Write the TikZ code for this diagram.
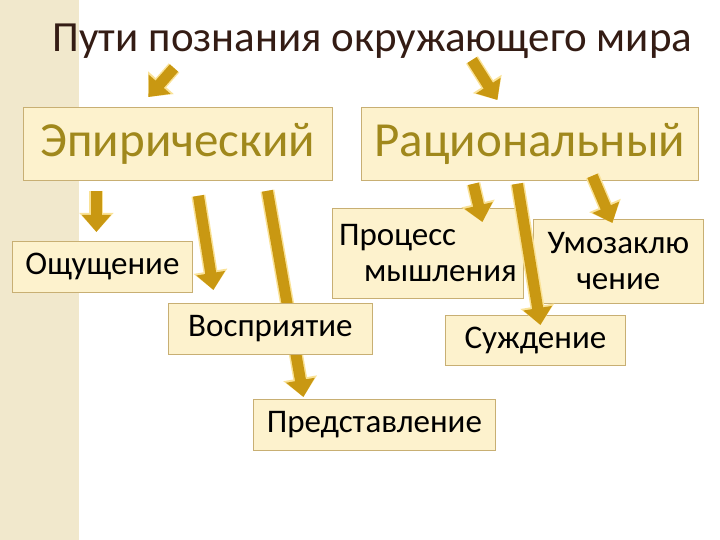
\documentclass[tikz,border=0pt]{standalone}
\usepackage{fontspec}
\setmainfont{Carlito}
\usetikzlibrary{arrows.meta,calc,backgrounds}
\definecolor{strip}{RGB}{241,232,204}
\definecolor{boxfill}{RGB}{253,242,205}
\definecolor{boxline}{RGB}{200,175,115}
\definecolor{gold}{RGB}{201,152,18}
\definecolor{glow}{RGB}{250,226,150}
\definecolor{olive}{RGB}{160,136,28}
\definecolor{titlebrown}{RGB}{52,28,20}
\tikzset{
  box/.style={draw=boxline, fill=boxfill, line width=0.8pt, inner sep=0pt, anchor=north west, align=center, font=\fontsize{33}{36}\selectfont},
  bigbox/.style={box, text=olive, font=\fontsize{49}{52}\selectfont},
  flow/.style={line width=11pt, draw=gold, -{Triangle[width=28pt,length=17pt]},
    preaction={draw=glow, line width=14pt, -{Triangle[width=33pt,length=19pt]}}}
}

\begin{document}
\begin{tikzpicture}[x=1pt, y=-1pt]
		\useasboundingbox (0,0) rectangle (720,540);
		\node[anchor=base, text=titlebrown, font=\fontsize{43}{46}\selectfont] (title) at (372.5,52) {Пути познания окружающего мира};
		\node[bigbox, minimum width=309pt, minimum height=73pt] (emp) at (23,107) {Эпирический};
		\node[bigbox, minimum width=337pt, minimum height=73pt] (rat) at (361,107) {Рациональный};
		\node[box, minimum width=180pt, minimum height=51pt] (osh) at (12,241) {Ощущение};
		\node[box, minimum width=204pt, minimum height=51pt] (vos) at (168,303) {Восприятие};
		\node[box, minimum width=242pt, minimum height=51pt] (pred) at (253,399) {Представление};
		\node[box, align=left, minimum width=191pt, minimum height=90pt] (proc) at (332,208) {Процесс\\\hspace*{25pt}мышления};
		\node[box, minimum width=170pt, minimum height=84pt] (umoz) at (533,219) {Умозаклю\\чение};
		\node[box, minimum width=180pt, minimum height=50pt] (suzh) at (445,315) {Суждение};
		\draw[flow] ($(title.base)+(-198.5,16)$) -- ($(emp.north)+(-29.5,-10)$);
		\draw[flow] ($(title.base)+(99.5,8)$) -- ($(rat.north)+(-32.5,-7)$);
		\draw[flow] ($(emp.south)+(-81.5,10)$) -- ($(osh.north)+(-6,-9)$);
		\draw[flow] ($(emp.south)+(20.5,15)$) -- ($(vos.north)+(-57,-13)$);
		\draw[flow] ($(rat.south)+(-56.5,3)$) -- ($(proc.north)+(54.5,14)$);
		\draw[flow] ($(rat.south)+(-12.5,3)$) -- ($(suzh.north)+(5,10)$);
		\draw[flow] ($(rat.south)+(62.5,-5)$) -- ($(umoz.north)+(-6,4)$);
		\begin{pgfonlayer}{background}
			\fill[white] (0,0) rectangle (720,540);
			\fill[strip] (0,0) rectangle (79,540);
			\draw[flow] ($(emp.south)+(89.5,10)$) -- ($(pred.north)+(-71,-2)$);
		\end{pgfonlayer}
	\end{tikzpicture}
\end{document}
